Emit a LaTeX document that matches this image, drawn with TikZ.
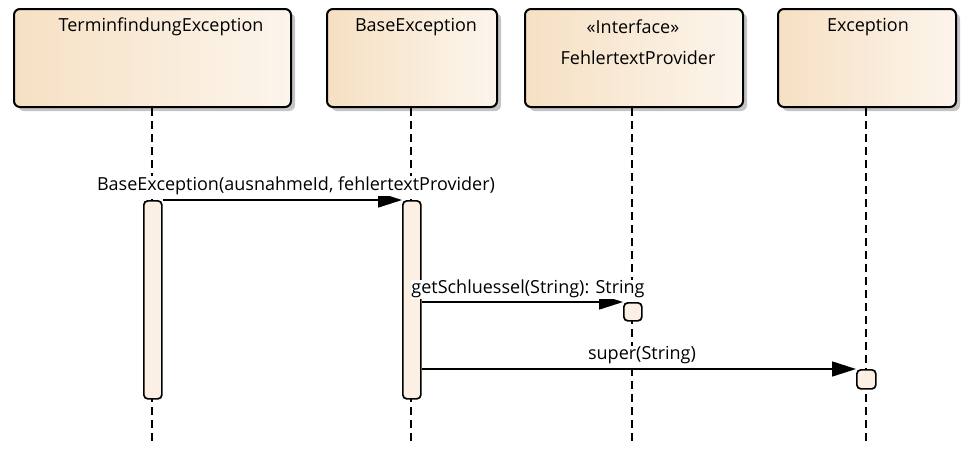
\documentclass[tikz,border=0pt]{standalone}
\usepackage{fontspec}
\setmainfont{Open Sans}
\usetikzlibrary{arrows.meta,shadows}
\definecolor{headL}{HTML}{F6E0C3}
\definecolor{headR}{HTML}{FCF5EC}
\definecolor{actfill}{HTML}{FBF0E3}
\definecolor{shadowc}{HTML}{C4C4C4}
\begin{document}
\begin{tikzpicture}[x=1pt,y=-1pt,
  head/.style={draw=black, line width=2pt, rounded corners=6pt, left color=headL, right color=headR,
     anchor=north west, inner sep=0pt,
     drop shadow={shadow xshift=4pt, shadow yshift=-4pt, fill=shadowc, opacity=1}},
  title/.style={font=\fontsize{18}{21}\selectfont, inner sep=0pt},
  lifeline/.style={draw=black, line width=1.6pt, dash pattern=on 8pt off 5pt},
  act/.style={draw=black, line width=1.7pt, rounded corners=4pt, fill=actfill, anchor=north west, inner sep=0pt},
  msg/.style={draw=black, line width=1.6pt, -{Triangle[length=24pt,width=15pt]}},
  msglabel/.style={font=\fontsize{18}{21}\selectfont, fill=white, inner sep=0.5pt}
]
\useasboundingbox (0,0) rectangle (968,450);
% heads
\node[head, minimum width=277pt, minimum height=98pt] (h1) at (13,8) {};
\node[head, minimum width=170pt, minimum height=98pt] (h2) at (326,8) {};
\node[head, minimum width=218pt, minimum height=98pt] (h3) at (524,8) {};
\node[head, minimum width=178pt, minimum height=98pt] (h4) at (777,8) {};
\node[title] (t1) at (161,27) {TerminfindungException};
\node[title] (t2) at (416,27) {BaseException};
\node[title] (t3a) at (633,27) {«Interface»};
\node[title] (t3b) at (638,58) {FehlertextProvider};
\node[title] (t4) at (868,27) {Exception};
% lifeline ends
\coordinate (e1) at (152,445);
\coordinate (e2) at (411,445);
\coordinate (e3) at (632,445);
\coordinate (e4) at (866,445);
\draw[lifeline] (h1.south -| e1) -- (e1);
\draw[lifeline] (h2.south -| e2) -- (e2);
\draw[lifeline] (h3.south -| e3) -- (e3);
\draw[lifeline] (h4.south -| e4) -- (e4);
% activations
\node[act, minimum width=18pt, minimum height=198pt] (a1) at (143,200) {};
\node[act, minimum width=18pt, minimum height=198pt] (a2) at (402,200) {};
\node[act, minimum width=18pt, minimum height=18pt] (a3) at (623,302) {};
\node[act, minimum width=19pt, minimum height=19pt] (a4) at (856,369) {};
% messages
\draw[msg] (a1.north east) -- (a2.north west);
\draw[msg] (a2.east |- a3.north west) -- (a3.north west);
\draw[msg] (a2.east |- a4.north west) -- (a4.north west);
\node[msglabel] (m1) at (296,186) {BaseException(ausnahmeId, fehlertextProvider)};
\node[msglabel] (m2) at (528,289) {getSchluessel(String): String};
\node[msglabel] (m3) at (642,355) {super(String)};
\end{tikzpicture}
\end{document}
